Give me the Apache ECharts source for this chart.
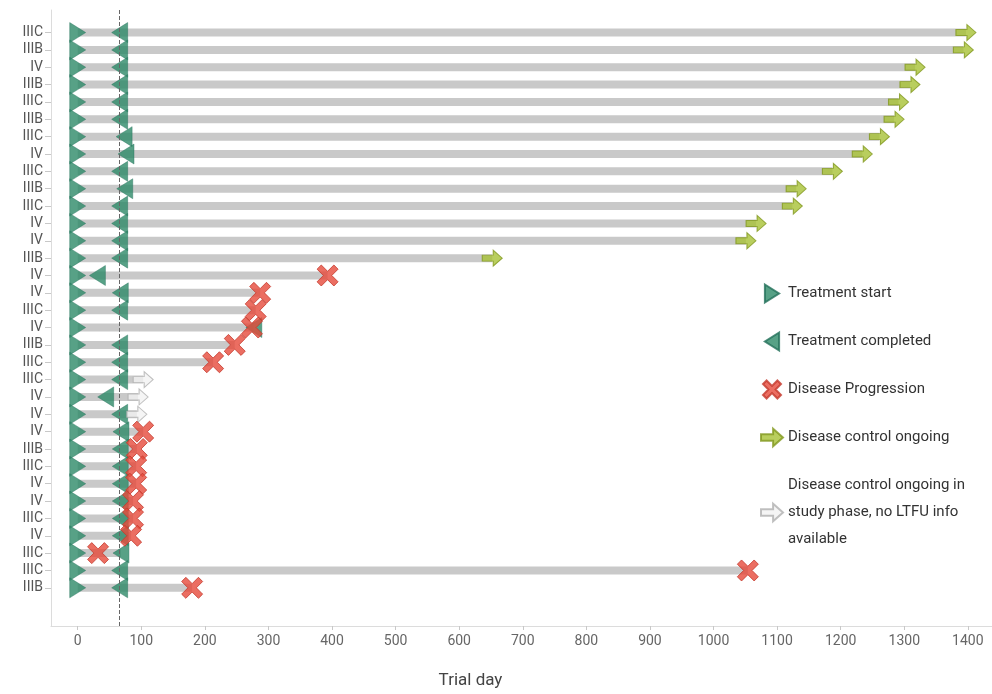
<!DOCTYPE html>
<html>
<head>
<meta charset="utf-8">
<script src="https://cdn.jsdelivr.net/npm/echarts@6/dist/echarts.min.js"></script>
<style>
  html, body { margin: 0; padding: 0; background: #ffffff; }
  #chart { width: 992px; height: 694px; }
</style>
</head>
<body>
<div id="chart"></div>
<script>
// Patients listed top to bottom; stage at diagnosis
const stages = ['IIIC','IIIB','IV','IIIB','IIIC','IIIB','IIIC','IV','IIIC','IIIB','IIIC','IV','IV','IIIB',
                'IV','IV','IIIC','IV','IIIB','IIIC','IIIC','IV','IV','IV','IIIB','IIIC','IV','IV','IIIC','IV',
                'IIIC','IIIC','IIIB'];

// Day of treatment start
const treatmentStart = [0,0,0,0,0,0,0,0,0,0,0,0,0,0,0,0,0,0,0,0,0,0,0,0,0,0,0,0,0,0,0,0,0];

// Day of treatment completion
const treatmentCompleted = [66,66,66,66,66,66,73,76,66,74,66,66,66,66,
                            31,67,66,277,66,66,66,44,66,68,67,67,67,67,67,67,
                            68,66,66];

// Day of disease progression (null = none)
const progression = [null,null,null,null,null,null,null,null,null,null,null,null,null,null,
                     393,287,280,274,247,213,null,null,null,103,93,92,92,87,87,84,
                     32,1054,180];

// Last follow-up with disease control ongoing (null = none)
const controlOngoing = [1397,1393,1317,1309,1291,1284,1261,1234,1187,1130,1124,1067,1051,652,
                        null,null,null,null,null,null,null,null,null,null,null,null,null,null,null,null,
                        null,null,null];

// Disease control ongoing in study phase, no long-term follow-up information
const controlStudyPhase = [null,null,null,null,null,null,null,null,null,null,null,null,null,null,
                           null,null,null,null,null,null,103,95,93,null,null,null,null,null,null,null,
                           null,null,null];

const xTicks = [0,100,200,300,400,500,600,700,800,900,1000,1100,1200,1300,1400];
const cutoffDay = 65;

const NAME_START = 'Treatment start';
const NAME_DONE = 'Treatment completed';
const NAME_PD = 'Disease Progression';
const NAME_ONGOING = 'Disease control ongoing';
const NAME_STUDY = 'Disease control ongoing in study phase, no LTFU info available';
const legendText = {};
legendText[NAME_STUDY] = 'Disease control ongoing in\nstudy phase, no LTFU info\navailable';

const n = stages.length;
const rowY = i => n - i;
const yVals = stages.map((s, i) => rowY(i));

// Swimlane extent: from start to the last recorded event of each patient
const laneData = stages.map((s, i) => {
  const ends = [treatmentCompleted[i], progression[i], controlOngoing[i], controlStudyPhase[i]]
    .filter(v => v !== null);
  return [treatmentStart[i], rowY(i), Math.max.apply(null, ends)];
});

const points = arr => arr.map((v, i) => v === null ? null : [v, rowY(i)]).filter(p => p);

const SYM_START = 'path://M0,0L15,9.5L0,19Z';
const SYM_DONE = 'path://M15,0L0,9.5L15,19Z';
const SYM_CROSS = 'path://M4,0L10,6L16,0L20,4L14,10L20,16L16,20L10,14L4,20L0,16L6,10L0,4Z';
const SYM_ARROW = 'path://M0,5L11,5L11,0L20,8L11,16L11,11L0,11Z';

const font = 'Roboto, "Open Sans", Arial, sans-serif';

const chart = echarts.init(document.getElementById('chart'));
chart.setOption({
  animation: false,
  textStyle: { fontFamily: font },
  grid: { left: 51, right: 0, top: 10, bottom: 63 },
  xAxis: {
    type: 'value', min: -42, max: 1438,
    name: 'Trial day', nameLocation: 'middle', nameGap: 46,
    nameTextStyle: { fontSize: 17, color: '#444', fontFamily: font, padding: [0, 102, 0, 0] },
    axisLine: { show: true, onZero: false, lineStyle: { color: '#dcdcdc' } },
    axisTick: { show: true, customValues: xTicks, length: 4, lineStyle: { color: '#c8c8c8' } },
    axisLabel: { customValues: xTicks, fontSize: 14, color: '#666', margin: 8, fontFamily: font,
                 formatter: v => String(v) },
    splitLine: { show: false }
  },
  yAxis: {
    type: 'value', min: -1.2, max: 34.3,
    axisLine: { show: true, onZero: false, lineStyle: { color: '#dcdcdc' } },
    axisTick: { show: true, customValues: yVals, length: 6, lineStyle: { color: '#c8c8c8' } },
    axisLabel: {
      customValues: yVals, fontSize: 14, color: '#555', margin: 8, fontFamily: font,
      formatter: v => stages[n - v] || ''
    },
    splitLine: { show: false }
  },
  legend: {
    orient: 'vertical', left: 760, top: 280, padding: 0,
    itemWidth: 22, itemHeight: 18, itemGap: 21,
    selectedMode: false,
    textStyle: { fontSize: 15, color: '#333', lineHeight: 27, fontFamily: font },
    data: [NAME_START, NAME_DONE, NAME_PD, NAME_ONGOING, NAME_STUDY],
    formatter: name => legendText[name] || name
  },
  series: [
    {
      type: 'custom', name: 'lane', z: 1, silent: true,
      encode: { x: [0, 2], y: 1 },
      data: laneData,
      renderItem: (params, api) => {
        const y = api.value(1);
        const a = api.coord([api.value(0), y]);
        const b = api.coord([api.value(2), y]);
        const h = 8;
        return { type: 'rect', shape: { x: a[0], y: a[1] - h / 2, width: b[0] - a[0], height: h },
                 style: { fill: '#c9c9c9' } };
      }
    },
    {
      type: 'scatter', name: NAME_START, z: 2,
      symbol: SYM_START, symbolSize: [16, 20],
      itemStyle: { color: '#2d8a68', borderColor: '#23705a', borderWidth: 0.5 },
      data: points(treatmentStart),
      markLine: {
        silent: true, symbol: ['none', 'none'], label: { show: false },
        lineStyle: { type: 'dashed', color: '#666', width: 1 },
        data: [{ xAxis: cutoffDay }]
      }
    },
    {
      type: 'scatter', name: NAME_DONE, z: 3,
      symbol: SYM_DONE, symbolSize: [16, 20],
      itemStyle: { color: '#2d8a68', borderColor: '#23705a', borderWidth: 0.5 },
      data: points(treatmentCompleted)
    },
    {
      type: 'scatter', name: NAME_STUDY, z: 4,
      symbol: SYM_ARROW, symbolSize: [20, 16],
      itemStyle: { color: '#f3f3f3', borderColor: '#b0b0b0', borderWidth: 1 },
      data: points(controlStudyPhase)
    },
    {
      type: 'scatter', name: NAME_ONGOING, z: 4,
      symbol: SYM_ARROW, symbolSize: [20, 16],
      itemStyle: { color: '#a8c236', borderColor: '#82991f', borderWidth: 1 },
      data: points(controlOngoing)
    },
    {
      type: 'scatter', name: NAME_PD, z: 5,
      symbol: SYM_CROSS, symbolSize: [21, 21],
      itemStyle: { color: '#e64a3b', borderColor: '#c4382c', borderWidth: 1 },
      data: points(progression)
    }
  ]
});
</script>
</body>
</html>
